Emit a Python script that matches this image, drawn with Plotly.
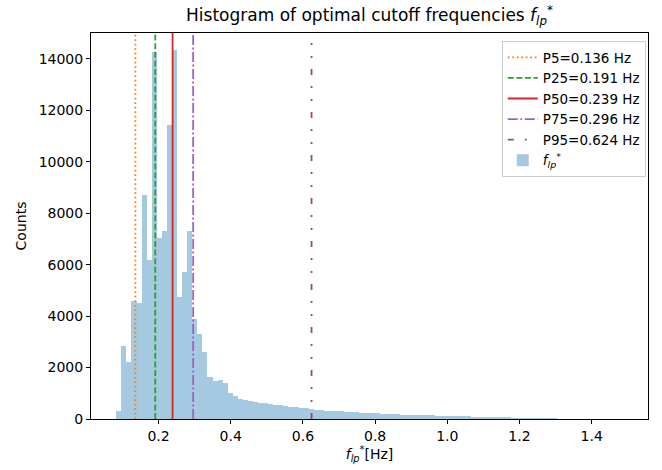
import plotly.graph_objects as go

# ---- data ----
BIN_START = 0.083
BIN_WIDTH = 0.01403
counts = [
    315, 2829, 2219, 4578, 4512, 8698, 6172, 14250, 7027, 7299,
    11430, 14350, 4734, 5717, 7299, 3879, 3296, 2585, 1613, 1496,
    1520, 1380, 1003, 913, 758, 755, 719, 665, 626, 614,
    602, 563, 548, 509, 470, 459, 447, 420, 380, 368,
    355, 330, 330, 315, 303, 290, 278, 265, 240, 237,
    225, 220, 212, 200, 187, 187, 175, 170, 160, 155,
    150, 145, 140, 135, 130, 125, 118, 112, 108, 102,
    96, 90, 85, 80, 74, 70, 64, 60, 55, 50,
    45, 40, 36, 32, 28, 25, 22, 19, 17, 15,
    13, 11, 10, 9, 8, 7, 6, 5, 4, 3,
]
pct_names = ["P5", "P25", "P50", "P75", "P95"]
pct_values = [0.136, 0.191, 0.239, 0.296, 0.624]
pct_colors = ["#ff7f0e", "#2ca02c", "#d62728", "#9467bd", "#8c564b"]
pct_dashes = ["1.8px,2.7px", "6px,2.6px", "solid", "10px,2.6px,1.8px,2.6px",
              "6px,11px,2px,11px,2px,11px"]
x_ticks = [0.2, 0.4, 0.6, 0.8, 1.0, 1.2, 1.4]
y_ticks = [0, 2000, 4000, 6000, 8000, 10000, 12000, 14000]
X_RANGE = [0.013, 1.556]
Y_RANGE = [0, 15000]

FONT = "DejaVu Sans"
FLP = "<i>f</i><sub><i>lp</i></sub><sup>*</sup>"

centers = [BIN_START + BIN_WIDTH * (i + 0.5) for i in range(len(counts))]

fig = go.Figure()
fig.add_trace(go.Bar(
    x=centers, y=counts, width=BIN_WIDTH,
    marker=dict(color="rgba(31,119,180,0.4)", line=dict(width=0)),
    name=FLP, legendrank=2000,
))
for n, v, c, d in zip(pct_names, pct_values, pct_colors, pct_dashes):
    fig.add_trace(go.Scatter(
        x=[v, v], y=Y_RANGE, mode="lines",
        line=dict(color=c, width=1.8, dash=d),
        name=f"{n}={v:.3f} Hz", legendrank=1000,
    ))

axis_common = dict(
    showline=True, linecolor="black", linewidth=1, mirror=True,
    ticks="outside", ticklen=4, tickcolor="black", tickwidth=1,
    showgrid=False, zeroline=False,
    tickfont=dict(family=FONT, size=14, color="black"),
)
fig.update_layout(
    width=662, height=470,
    margin=dict(l=91, r=14, t=33, b=51),
    plot_bgcolor="white", paper_bgcolor="white",
    font=dict(family=FONT, color="black"),
    bargap=0,
    title=dict(text="Histogram of optimal cutoff frequencies " + FLP,
               x=0.5, xref="paper", xanchor="center",
               y=0.968, yref="container", yanchor="middle",
               font=dict(family=FONT, size=17, color="black")),
    xaxis=dict(range=X_RANGE, tickvals=x_ticks, ticktext=[f"{t:.1f}" for t in x_ticks],
               title=dict(text=FLP + "[Hz]", font=dict(family=FONT, size=14), standoff=5),
               **axis_common),
    yaxis=dict(range=Y_RANGE, tickvals=y_ticks, ticktext=[str(t) for t in y_ticks],
               title=dict(text="Counts", font=dict(family=FONT, size=14), standoff=8),
               **axis_common),
    legend=dict(x=0.996, y=0.979, xanchor="right", yanchor="top",
                bgcolor="rgba(255,255,255,0.8)", bordercolor="#cccccc", borderwidth=1,
                font=dict(family=FONT, size=13.5, color="black"),
                traceorder="normal"),
    showlegend=True,
)

fig.write_html("out.html")
